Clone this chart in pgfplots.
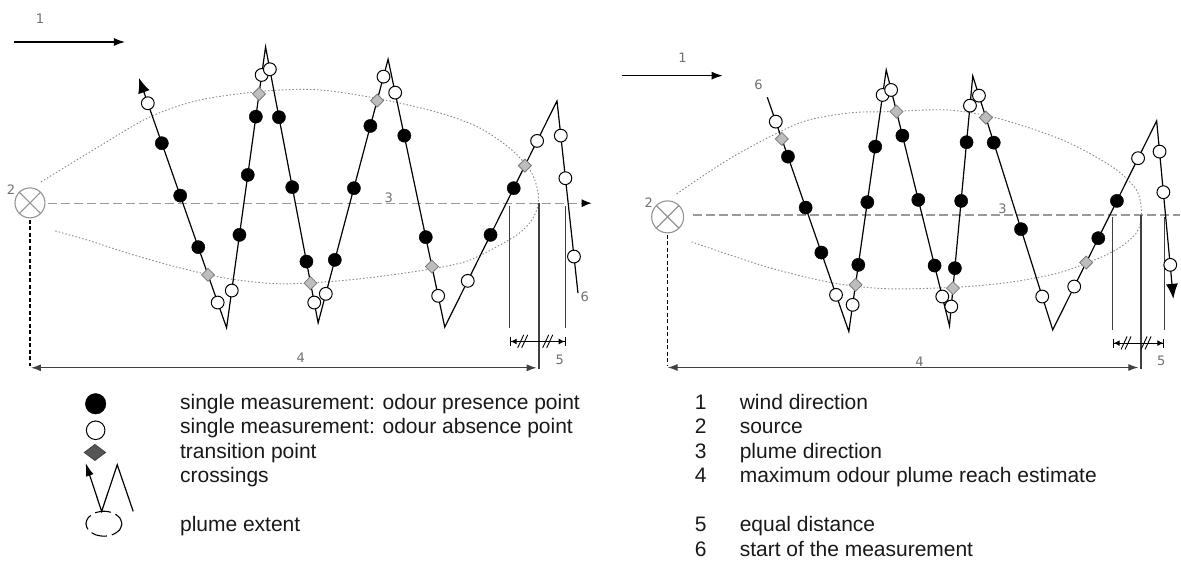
\documentclass[border=0pt]{standalone}
\usepackage{pgfplots}
\pgfplotsset{compat=1.18}
\usepackage{fontspec}
\setmainfont{Liberation Sans}
\newfontfamily\dv{DejaVu Sans}
\usetikzlibrary{arrows.meta}
\definecolor{lab}{HTML}{707070}
\definecolor{plume}{HTML}{8A8A8A}
\definecolor{dashc}{HTML}{9A9A9A}
\definecolor{diam}{HTML}{BDBDBD}
\definecolor{diamo}{HTML}{7A7A7A}
\definecolor{diamd}{HTML}{555555}
\definecolor{vline}{HTML}{404040}
\begin{document}
\begin{tikzpicture}
\begin{axis}[x=1pt,y=1pt,y dir=reverse,xmin=0,xmax=1181,ymin=0,ymax=561,
  hide axis,scale only axis,clip=false,unbounded coords=jump]
\addplot[draw=none] coordinates {(0,0) (1181,561)};
% ---------- plume extents
\addplot[smooth,color=plume,line width=0.9pt,dash pattern=on 1.5pt off 2pt] coordinates {
(41,182) (100,146) (150,117) (200,100) (266,91) (320,90) (380,99) (440,113) (480,128) (512,150) (532,173) (539,198) (534,217) (520,233) (495,248) (465,262) (420,271) (350,280) (283,284) (230,279) (180,268) (130,254) (90,241) (55,231)};
\addplot[smooth,color=plume,line width=0.9pt,dash pattern=on 1.5pt off 2pt] coordinates {
(677,194) (733,157) (800,123) (850,113) (890,111.7) (947,110) (997,118) (1063,140) (1113,167) (1137,190) (1142,213) (1137,233) (1113,252) (1063,272) (1013,282) (963,287) (890,289) (833,283) (767,267) (692,242)};
% ---------- plume direction
\addplot[color=dashc,line width=1.3pt,dash pattern=on 9pt off 4pt,-{Latex[length=10pt,width=8pt,black]}] coordinates {(48,203.3) (592,203.3)};
\addplot[color=dashc,line width=1.3pt,dash pattern=on 9pt off 4pt] coordinates {(693,215) (1181,215)};
% ---------- wind direction
\addplot[black,line width=1.1pt,-{Latex[length=11pt,width=8pt]}] coordinates {(14,42) (125,42)};
\addplot[black,line width=1.1pt,-{Latex[length=11pt,width=8pt]}] coordinates {(622,75.7) (723,75.7)};
% ---------- source
\addplot[only marks,mark=otimes,mark size=15pt,mark options={draw=gray!85,line width=1.1pt}] coordinates {(30,203)};
\addplot[only marks,mark=otimes,mark size=16pt,mark options={draw=gray!85,line width=1.1pt}] coordinates {(668,217)};
% ---------- dashed vertical from source
\addplot[black,line width=1.3pt,dash pattern=on 4pt off 2.5pt] coordinates {(30,220) (30,366)};
\addplot[black,line width=1.3pt,dash pattern=on 4pt off 2.5pt] coordinates {(668,235) (668,366)};
% ---------- reach arrows
\addplot[vline,line width=1.2pt,{Latex[length=10pt,width=7pt]}-{Latex[length=10pt,width=7pt]}] coordinates {(31,368) (537,368)};
\addplot[vline,line width=1.2pt,{Latex[length=10pt,width=7pt]}-{Latex[length=10pt,width=7pt]}] coordinates {(668,367.7) (1139,367.7)};
% ---------- vertical lines
\addplot[vline,line width=1.3pt] coordinates {(510,206) (510,328) (nan,nan) (539.3,203) (539.3,369) (nan,nan) (566,206) (566,328)};
\addplot[vline,line width=1.3pt] coordinates {(1113.3,217) (1113.3,330) (nan,nan) (1141.7,215) (1141.7,369) (nan,nan) (1165,217) (1165,330)};
% ---------- equal distance
\addplot[black,line width=1pt,{Bar[width=9pt]Latex[length=6pt,width=6pt]}-{Latex[length=6pt,width=6pt]Bar[width=9pt]}] coordinates {(510,341.7) (566,341.7)};
\addplot[black,line width=1pt,{Bar[width=9pt]Latex[length=6pt,width=6pt]}-{Latex[length=6pt,width=6pt]Bar[width=9pt]}] coordinates {(1113.3,343.3) (1165,343.3)};
\addplot[black,line width=0.9pt] coordinates {
(518,348) (524,335) (nan,nan) (522,348) (528,335) (nan,nan)
(543,348) (549,335) (nan,nan) (547,348) (553,335) (nan,nan)
(1121.7,349.6) (1127.7,336.6) (nan,nan) (1125.7,349.6) (1131.7,336.6) (nan,nan)
(1141.7,349.6) (1147.7,336.6) (nan,nan) (1145.7,349.6) (1151.7,336.6)};
% ---------- crossings
\addplot[black,line width=1.2pt,-{Latex[length=15pt,width=12pt]}] coordinates {
(578.3,293.3) (557.3,101) (445,327.3) (388.3,59.3) (318.3,323) (265.7,47) (226.7,328) (139,78)};
\addplot[black,line width=1.2pt,-{Latex[length=15pt,width=12pt]}] coordinates {
(767.7,97.3) (849.3,331.7) (886.7,70) (950,326) (973.3,76) (1053.3,330) (1157.3,121) (1174,299)};
% ---------- presence points
\addplot[only marks,mark=*,mark size=6.6pt,mark options={fill=black,draw=black}] coordinates {
(161.9,143.3) (180.3,195.7) (198.4,247.3)
(239.6,235) (247.9,175) (256.0,116.7)
(279.1,117.3) (292.4,187.3) (306.6,261.7)
(335.0,260) (354.1,188.3) (370.6,126)
(404.5,135.7) (426.0,237.3)
(490.8,235) (514.0,188.3)
(788.4,156.7) (806.1,207.7) (821.8,252.7)
(858.8,265) (867.8,202.3) (875.7,146.7)
(902.9,135.7) (918.8,200) (935.1,265.7)
(955.4,268.3) (961.7,201) (967.1,142.3)
(994.3,142.7) (1021.6,229.3)
(1098.9,238.3) (1117.5,201)};
% ---------- absence points
\addplot[only marks,mark=*,mark size=6.4pt,mark options={fill=white,draw=black,line width=1pt}] coordinates {
(147.9,103.3) (217.8,302.7) (231.9,290.7) (261.8,75) (270.0,69.3) (314.4,302.7) (326.0,294) (383.7,76.7) (395.4,92.7) (438.4,296) (468.0,281) (537.4,141) (561.1,135.7) (565.7,178.3) (574.3,256.7)
(776.2,121.7) (836.5,295) (853.1,305) (883.1,95) (891.6,90) (942.8,296.7) (951.8,306.7) (970.5,105.7) (979.5,95.7) (1042.8,296.7) (1074.8,286.7) (1138.7,158.3) (1160.2,151.7) (1164.0,192.3) (1170.9,265)};
% ---------- transition points
\addplot[only marks,mark=square*,mark size=4.6pt,mark options={rotate=45,fill=diam,draw=diamo,line width=0.8pt}] coordinates {
(208.1,275) (259.2,94) (310.7,283.3) (377.3,100.7) (432.2,266.7) (525.2,165.7)
(782.2,139) (856.0,285) (897.0,111.7) (953.5,288.3) (986.4,117.7) (1086.8,262.7)};
% ---------- diagram labels
\begin{scope}[every node/.style={font=\dv\fontsize{13}{15}\selectfont,text=lab,inner sep=0pt}]
\node at (axis cs:40,19) {1};
\node at (axis cs:11,190) {2};
\node at (axis cs:389,198) {3};
\node at (axis cs:301,358) {4};
\node at (axis cs:560,360) {5};
\node at (axis cs:585,297) {6};
\node at (axis cs:683,58) {1};
\node at (axis cs:649,203) {2};
\node at (axis cs:1003,209) {3};
\node at (axis cs:920,362) {4};
\node at (axis cs:1162,361) {5};
\node at (axis cs:759,85) {6};
\end{scope}
% ---------- legend symbols
\addplot[only marks,mark=*,mark size=10.3pt,mark options={fill=black,draw=black}] coordinates {(95.7,404)};
\addplot[only marks,mark=*,mark size=9.3pt,mark options={fill=white,draw=black,line width=1pt}] coordinates {(95.7,430.5)};
\addplot[only marks,mark=diamond*,mark size=10.7pt,mark options={rotate=90,fill=diamd,draw=diamd!80!black,line width=0.8pt}] coordinates {(95,452.7)};
\addplot[black,line width=1.2pt,-{Latex[length=13pt,width=8pt]}] coordinates {(133.3,511.7) (117.3,465) (101.7,511.7) (85.7,463.3)};
\addplot[smooth,black,line width=1.1pt,dash pattern=on 16pt off 5pt] coordinates {
(122,524) (119.6,530.3) (113,534.8) (104,536.5) (95,534.8) (88.4,530.3) (86,524) (88.4,517.8) (95,513.2) (104,511.5) (113,513.2) (119.6,517.8) (122,524)};
% ---------- legend texts
\begin{scope}[every node/.style={font=\fontsize{21}{25}\selectfont,anchor=base west,inner sep=0pt,text=black!90}]
\node at (axis cs:180,409.5) {single measurement: odour presence point};
\node at (axis cs:180,434) {single measurement: odour absence point};
\node at (axis cs:180,458.5) {transition point};
\node at (axis cs:180,483) {crossings};
\node at (axis cs:180,532) {plume extent};
\node at (axis cs:695,409.5) {1};
\node at (axis cs:695,434) {2};
\node at (axis cs:695,458.5) {3};
\node at (axis cs:695,483) {4};
\node at (axis cs:695,532) {5};
\node at (axis cs:695,556.5) {6};
\node at (axis cs:740,409.5) {wind direction};
\node at (axis cs:740,434) {source};
\node at (axis cs:740,458.5) {plume direction};
\node at (axis cs:740,483) {maximum odour plume reach estimate};
\node at (axis cs:740,532) {equal distance};
\node at (axis cs:740,556.5) {start of the measurement};
\end{scope}
\end{axis}
\end{tikzpicture}
\end{document}
